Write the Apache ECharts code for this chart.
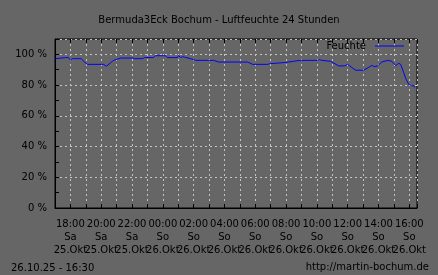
<!DOCTYPE html>
<html><head><meta charset="utf-8">
<script src="https://cdn.jsdelivr.net/npm/echarts@6/dist/echarts.min.js"></script>
<style>html,body{margin:0;padding:0;background:#666666;}#c{width:438px;height:275px;}</style>
</head><body><div id="c"></div>
<script>
// hours since 25.10. 18:00
const hours = [-0.97,-0.32,-0.13,0,0.13,0.71,0.91,1.1,2.14,2.34,2.6,2.79,3.25,4.03,4.16,4.68,4.81,5.39,5.52,6.17,6.3,6.95,7.02,7.15,7.28,7.47,7.8,8.12,8.84,8.9,8.97,9.29,9.62,11.5,11.83,12.8,13,13.84,14.16,14.49,14.94,16.05,16.18,16.31,16.89,17.41,17.8,18,18.26,18.52,19.04,19.36,19.56,19.75,19.95,20.21,20.6,20.86,21.12,21.31,21.44,21.64,21.77,21.96,22.16,22.29,22.35];
const humidity = [97.2,97.9,97.9,96.2,97.2,97.2,95,93.5,93.5,92.3,94.5,96,97.6,97.6,97.2,97.2,97.9,97.9,99.1,99.1,97.9,97.9,99.3,97.9,98.5,98,97.2,96.1,96.1,96.8,96.1,96.1,95,95,93.5,93.5,94,94.6,95,95.5,96.1,96.1,96.6,96.1,95.5,92.5,92.5,93.5,91.5,89.7,89.7,91.5,92.8,92,92.5,95,96.1,95.5,92.7,94.2,93.5,88,84.3,80.5,79.6,79.6,78.5];
const xTimes = ['18:00','20:00','22:00','00:00','02:00','04:00','06:00','08:00','10:00','12:00','14:00','16:00'];
const xDays = ['Sa','Sa','Sa','So','So','So','So','So','So','So','So','So'];
const xDates = ['25.Okt','25.Okt','25.Okt','26.Okt','26.Okt','26.Okt','26.Okt','26.Okt','26.Okt','26.Okt','26.Okt','26.Okt'];
const yTicks = [0,20,40,60,80,100];
const yLabels = ['0 %','20 %','40 %','60 %','80 %','100 %'];
const seriesName = 'Feuchte';
const titleText = 'Bermuda3Eck Bochum - Luftfeuchte 24 Stunden';
const stampText = '26.10.25 - 16:30';
const urlText = 'http://martin-bochum.de';

const font = 'DejaVu Sans';
const chart = echarts.init(document.getElementById('c'), null, {renderer:'canvas'});
const split = {show:true, lineStyle:{color:'#c4c4c4', type:[2,3], width:1}};
chart.setOption({
  backgroundColor:'#666666',
  animation:false,
  textStyle:{fontFamily:font},
  title:[
    {text:titleText, left:'center', top:10, textStyle:{fontFamily:font, fontSize:10, fontWeight:'normal', color:'#000'}},
    {text:stampText, left:6, top:258, textStyle:{fontFamily:font, fontSize:10, fontWeight:'normal', color:'#000'}},
    {text:urlText, right:4, top:257, textStyle:{fontFamily:font, fontSize:10, fontWeight:'normal', color:'#000'}}
  ],
  legend:{data:[{name:seriesName, icon:'rect'}], right:34, top:41, align:'right', itemWidth:29, itemHeight:1, itemGap:6, padding:[0,0,0,0],
    textStyle:{fontFamily:font, fontSize:10, color:'#000', padding:[0,4,0,0]}},
  grid:{left:55, right:21, top:39, bottom:67, show:true, borderColor:'#000', borderWidth:1, backgroundColor:'transparent'},
  xAxis:[
    {type:'value', min:-1, max:22.5, interval:1, position:'bottom',
      axisLine:{show:true, onZero:false, lineStyle:{color:'#000'}},
      axisTick:{show:true, inside:true, length:4, lineStyle:{color:'#000'}},
      splitLine:split,
      axisLabel:{show:true, margin:10, fontFamily:font, fontSize:10, color:'#000', lineHeight:13, showMinLabel:true, showMaxLabel:true,
        formatter:function(v){ if(v<0||v%2!==0) return ''; const i=v/2; if(i>=xTimes.length) return ''; return xTimes[i]+'\n'+xDays[i]+'\n'+xDates[i]; }}},
    {type:'value', min:-1, max:22.5, interval:1, position:'top',
      axisLine:{show:false, onZero:false}, axisTick:{show:true, inside:true, length:4, lineStyle:{color:'#000'}},
      splitLine:{show:false}, axisLabel:{show:false}}
  ],
  yAxis:[
    {type:'value', min:0, max:110, interval:20, position:'left',
      axisLine:{show:true, onZero:false, lineStyle:{color:'#000'}},
      axisTick:{show:false},
      splitLine:split,
      axisLabel:{margin:8, fontFamily:font, fontSize:10, color:'#000',
        formatter:function(v){ const i=yTicks.indexOf(v); return i>=0?yLabels[i]:''; }}},
    {type:'value', min:0, max:110, interval:10, position:'left', offset:0,
      axisLine:{show:false, onZero:false},
      axisTick:{show:true, inside:true, length:4, lineStyle:{color:'#000'}},
      splitLine:{show:false}, axisLabel:{show:false}}
  ],
  series:[{name:seriesName, type:'line', symbol:'none', showSymbol:false,
    lineStyle:{color:'#0000ff', width:1}, itemStyle:{color:'#0000ff'},
    data:hours.map((h,i)=>[h,humidity[i]])}]
});
</script></body></html>
